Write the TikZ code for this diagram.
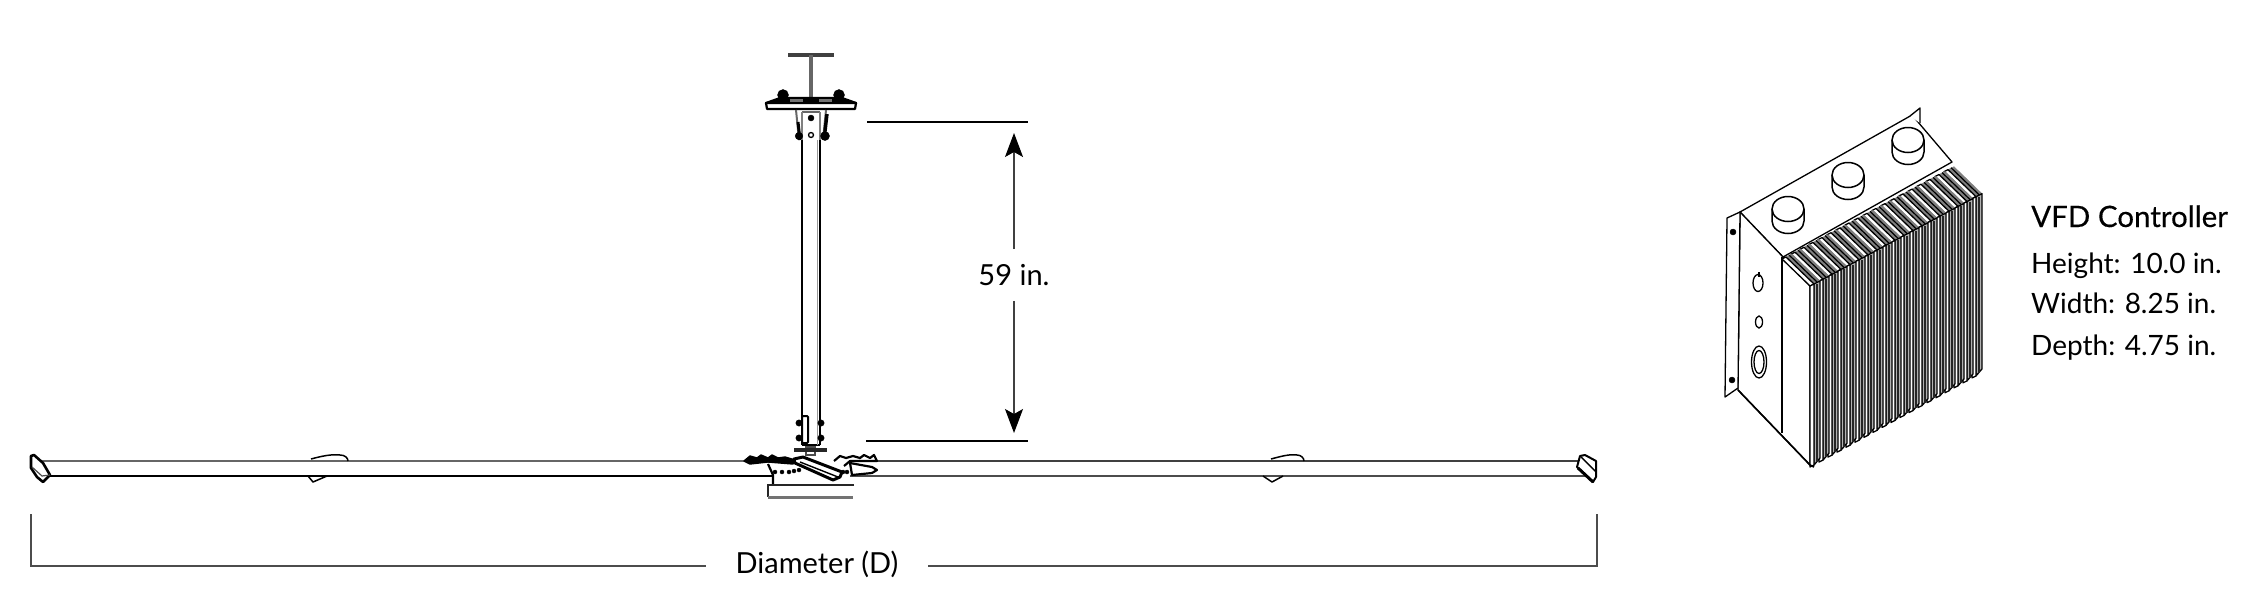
\documentclass[tikz,border=0pt]{standalone}
\usepackage{fontspec}
\setmainfont{Lato}
\newfontfamily\headfont[FakeBold=0.3]{Lato}
\usetikzlibrary{arrows.meta}
\tikzset{
	dimline/.style={draw=black!70, line width=1.6pt},
	dimarrow/.style={draw=black!75, line width=1.1pt, -{Stealth[length=24pt,width=18pt,inset=5pt,black]}},
	dimtext/.style={font=\fontsize{29}{34}\selectfont, text=black, inner sep=0pt},
	spectext/.style={font=\fontsize{28}{34}\selectfont, text=black, inner sep=0pt, anchor=base west},
	inkline/.style={black, line width=2.2pt, line join=round},
	softline/.style={black!60, line width=2.6pt},
	knobline/.style={black, line width=1.5pt, fill=white},
	finline/.style={black, line width=1.3pt, line join=round}
}
\begin{document}
\begin{tikzpicture}[x=1pt, y=-1pt]
	\useasboundingbox (0, 0) rectangle (2250, 600);
	% ceiling mount
	\draw[black!75, line width=4pt] (788, 55) -- (834, 55);
	\draw[black!60, line width=4pt] (811, 55) -- (811, 102);
	\filldraw[inkline, fill=black] (766, 103) -- (780, 98) -- (842, 98) -- (856, 103) -- cycle;
	\draw[inkline, fill=white] (766, 103) -- (856, 103) -- (855, 109) -- (767, 109) -- cycle;
	\filldraw[black] (783, 95) circle (5.5);
	\filldraw[black] (839, 95) circle (5.5);
	\draw[black!55, line width=3pt] (790, 100) -- (803, 100);
	\draw[black!55, line width=3pt] (819, 100) -- (832, 100);
	% upper bracket
	\draw[black!60, line width=2pt] (796, 110) -- (799, 140);
	\draw[black!60, line width=2pt] (826, 110) -- (823, 140);
	\draw[black, line width=3pt] (798, 122) -- (800, 140);
	\draw[black, line width=3.4pt] (827, 114) -- (824, 140);
	\draw[black!60, line width=2.4pt] (802, 112) -- (820, 112);
	\draw[black!50, line width=1.4pt] (802, 112) -- (802, 140);
	\draw[black!50, line width=1.4pt] (820, 112) -- (820, 140);
	\filldraw[black] (799, 136) circle (3.8);
	\filldraw[black] (825, 136) circle (4.5);
	\filldraw[black] (811, 118) circle (3);
	\draw[black, line width=1.3pt] (811, 135) circle (2.5);
	% pole
	\draw[inkline] (802, 140) -- (802, 445);
	\draw[inkline] (820, 140) -- (820, 445);
	\draw[inkline] (802, 445) -- (820, 445);
	\draw[black!40, line width=1pt] (817, 140) -- (817, 445);
	% lower bracket
	\draw[black, line width=2pt, rounded corners=1pt, fill=white] (802, 416) rectangle (808, 443);
	\filldraw[black] (799, 423) circle (3.2);
	\filldraw[black] (799, 438) circle (3.2);
	\filldraw[black] (821, 423) circle (3.2);
	\filldraw[black] (821, 438) circle (3.2);
	\draw[black!70, line width=2pt] (806, 447) rectangle (815, 455);
	\draw[black!85, line width=3.4pt] (794, 450) -- (827, 450);
	% blades
	\draw[softline] (41, 461) -- (745, 461);
	\draw[black, line width=2.2pt] (48, 476) -- (772, 476);
	\draw[black!75, line width=2.4pt] (875, 461) -- (1580, 461);
	\draw[black!70, line width=2.6pt] (850, 476) -- (1588, 476);
	% blade fins
	\draw[black, line width=1.5pt, line join=round] (311, 459) .. controls (322, 456) and (332, 454) .. (340, 455) .. controls (345, 455) and (348, 458) .. (348, 461);
	\draw[black, line width=1.5pt, line join=round] (308, 476) -- (313, 482) -- (327, 476);
	\draw[black, line width=1.5pt, line join=round] (1271, 459) .. controls (1282, 456) and (1290, 454) .. (1297, 455) .. controls (1301, 455) and (1304, 458) .. (1304, 461);
	\draw[black, line width=1.5pt, line join=round] (1263, 476) -- (1272, 482) -- (1283, 476);
	% blade tips
	\draw[black, line width=2.6pt, line join=round, fill=white] (31, 456) -- (34, 455) -- (43, 463) -- (50, 475) -- (43, 482) -- (37, 477) -- (31, 468) -- cycle;
	\draw[black!70, line width=1.2pt] (32, 467) -- (42, 476) -- (50, 475);
	\draw[black, line width=2pt, line join=round, fill=white] (1580, 456) -- (1585, 455) -- (1596, 461) -- (1596, 477) -- (1593, 482) -- (1577, 467) -- cycle;
	\draw[black, line width=1.4pt] (1581, 457) -- (1596, 472);
	\draw[black, line width=3pt] (1578, 468) -- (1593, 482);
	% hub left
	\filldraw[black, line width=1.4pt, line join=round] (744, 461) -- (750, 456) -- (757, 458) -- (761, 455) -- (768, 458) -- (772, 455) -- (778, 458) -- (785, 457) -- (795, 460) -- (793, 464) -- (768, 462) -- (750, 464) -- cycle;
	\draw[inkline] (768, 464) -- (773, 475) -- (773, 484);
	\filldraw[black] (775, 472) circle (2);
	\filldraw[black] (782, 472) circle (2);
	\filldraw[black] (789, 472) circle (2);
	\filldraw[black] (794, 471) circle (2);
	\filldraw[black] (799, 470) circle (2);
	% hub centre
	\draw[black, line width=3pt, line join=round, fill=white] (803, 457) -- (842, 472) -- (840, 477) -- (833, 480) -- (795, 463) -- (794, 459) -- cycle;
	\draw[black, line width=1.4pt] (800, 462) -- (838, 477);
	% hub right
	\draw[black, line width=2.2pt, line join=round] (834, 461) -- (840, 456) -- (846, 458) -- (853, 456) -- (860, 458) -- (864, 455) -- (870, 458) -- (874, 455) -- (877, 461) -- (850, 461) -- (844, 466);
	\draw[inkline, fill=white] (850, 463) -- (872, 467) -- (877, 470) -- (872, 473) -- (852, 475) -- cycle;
	\filldraw[black] (843, 472) circle (2);
	\filldraw[black] (847, 472) circle (2);
	% hub plate
	\draw[black!85, line width=2.6pt] (854, 485) -- (768, 485) -- (768, 497);
	\draw[black!55, line width=3pt] (768, 497) -- (853, 497);
	% height dimension
	\coordinate (toptick) at (867, 122);
	\coordinate (toptickend) at (1028, 122);
	\coordinate (bottick) at (866, 441);
	\coordinate (bottickend) at (1028, 441);
	\coordinate (upend) at (1014, 133);
	\coordinate (downend) at (1014, 433);
	\draw[black, line width=1.3pt] (toptick) -- (toptickend);
	\draw[black, line width=1.3pt] (bottick) -- (bottickend);
	\node[dimtext, inner ysep=15pt] (dropbox) at (1014, 275) {59 in.};
	\draw[dimarrow] (dropbox) -- (upend);
	\draw[dimarrow] (dropbox) -- (downend);
	% diameter dimension
	\coordinate (diaL) at (31, 514);
	\coordinate (diaR) at (1597, 514);
	\node[dimtext, inner xsep=29pt, anchor=base] (diabox) at (817, 573) {Diameter (D)};
	\draw[dimline] (diaL) |- (diabox.west |- 0, 566);
	\draw[dimline] (diaR) |- (diabox.east |- 0, 566);
	% controller body
	\draw[finline, fill=white] (1740, 212) -- (1912, 115) -- (1952, 162) -- (1783, 257) -- cycle;
	\draw[finline, fill=white] (1910, 116) -- (1920, 108) -- (1920, 123);
	\draw[finline, fill=white] (1740, 212) -- (1783, 257) -- (1810, 286) -- (1810, 465) -- (1738, 390) -- cycle;
	\draw[finline] (1782, 257) -- (1782, 433);
	\draw[finline, fill=white] (1740, 212) -- (1727, 218) -- (1725, 397) -- (1738, 388) -- cycle;
	\filldraw[black] (1733, 232) circle (3);
	\filldraw[black] (1732, 380) circle (3);
	% controller fins
	\foreach \i in {18,...,0} {
		\pgfmathsetmacro{\fx}{1810+9.0*\i}
		\pgfmathsetmacro{\ft}{286-4.85*\i}
		\pgfmathsetmacro{\fb}{465-4.95*\i}
		\filldraw[black!50] (\fx+4, \ft-2) -- (\fx+4-28, \ft-29) -- (\fx+10-28, \ft-32) -- (\fx+10, \ft-5) -- cycle;
		\draw[black, line width=1.2pt] (\fx+7, \ft-4) -- (\fx+7-28, \ft-31);
		\draw[finline, fill=black!30] (\fx+4, \ft-2) -- (\fx+10, \ft-5) -- (\fx+10, \fb-7) -- (\fx+4, \fb) -- cycle;
		\draw[black!85, line width=1.4pt] (\fx+7, \ft-2) -- (\fx+7, \fb-3);
		\draw[finline, fill=white] (\fx, \ft) -- (\fx-28, \ft-27) -- (\fx-24, \ft-29) -- (\fx+4, \ft-2) -- cycle;
		\draw[finline, fill=white] (\fx, \ft) -- (\fx+4, \ft-2) -- (\fx+4, \fb) -- (\fx, \fb+2) -- cycle;
	}
	\draw[black, line width=1.6pt] (1738, 390) -- (1810, 465) -- (1814, 467);
	% controller knobs
	\foreach \kx/\ky/\kn in {1788/209/a, 1848/175/b, 1908/140/c} {
		\draw[knobline] (\kx-16, \ky) -- (\kx-16, \ky+12) arc[start angle=180, end angle=360, x radius=16, y radius=-12.5] -- (\kx+16, \ky);
		\draw[knobline] (\kx, \ky) ellipse (16 and 12.5);
	}
	% controller switches
	\draw[black, line width=1.3pt] (1758, 283) ellipse (5 and 8.5);
	\draw[black, line width=1.3pt] (1759, 272) -- (1759, 277);
	\draw[black, line width=1.3pt] (1759, 322) ellipse (3.5 and 6);
	\draw[black, line width=1.3pt] (1759, 362) ellipse (7.5 and 16);
	\draw[black, line width=1.3pt] (1759, 362) ellipse (5 and 11.5);
	% controller specs
	\node[spectext, font=\fontsize{29.5}{34}\selectfont\headfont] (vfdname) at (2031, 227) {VFD Controller};
	\node[spectext] (vfdheight) at (2031, 273) {Height: 10.0 in.};
	\node[spectext] (vfdwidth) at (2031, 313) {Width: 8.25 in.};
	\node[spectext] (vfddepth) at (2031, 355) {Depth: 4.75 in.};
\end{tikzpicture}
\end{document}
